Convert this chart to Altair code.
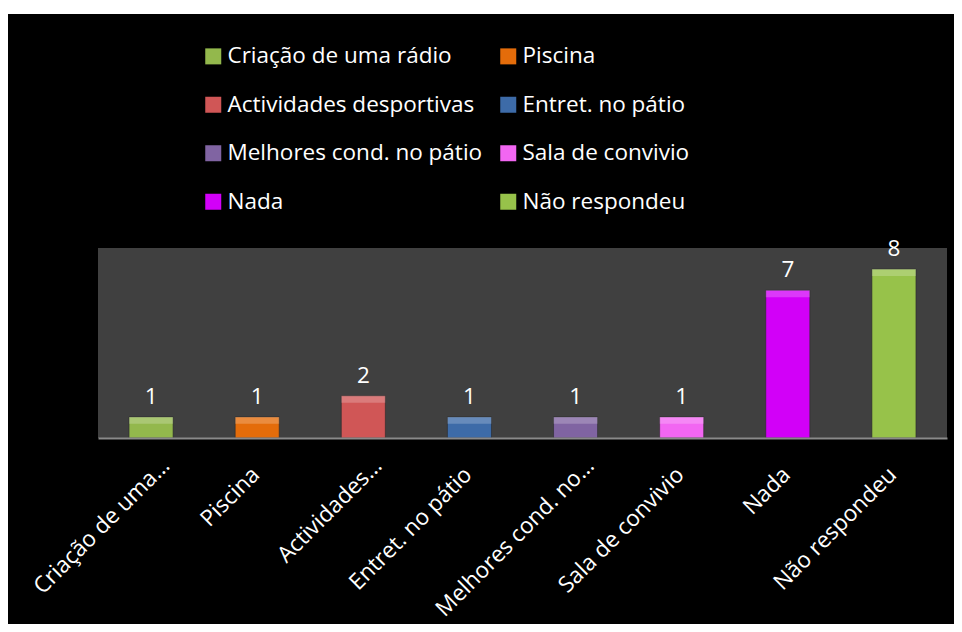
import altair as alt
import pandas as pd

categories = ["Criação de uma rádio", "Piscina", "Actividades desportivas", "Entret. no pátio",
              "Melhores cond. no pátio", "Sala de convivio", "Nada", "Não respondeu"]
axis_labels = ["Criação de uma…", "Piscina", "Actividades…", "Entret. no pátio",
               "Melhores cond. no…", "Sala de convivio", "Nada", "Não respondeu"]
values = [1, 1, 2, 1, 1, 1, 7, 8]
colors = ["#93b84c", "#e46c0a", "#d05656", "#3d6ba8", "#8064a2", "#f266f2", "#d200f8", "#97c24a"]

df = pd.DataFrame({"cat": categories, "val": values})

W, H = 849, 190
FONT = "Open Sans"
FS = 22.5

label_map = "{" + ",".join(f"'{c}':'{l}'" for c, l in zip(categories, axis_labels)) + "}"
trunc_test = "length(datum.value) > 16"

one = alt.Data(values=[{"a": 1}])

black = alt.Chart(one).mark_rect(color="black").encode(
    x=alt.value(-90), x2=alt.value(W + 7), y=alt.value(-234), y2=alt.value(H + 186))
gray = alt.Chart(one).mark_rect(color="#404040").encode(
    x=alt.value(0), x2=alt.value(W), y=alt.value(0), y2=alt.value(H))

xscale = alt.Scale(paddingInner=0.585, paddingOuter=0.2925)
xenc = alt.X("cat:N", sort=categories, title=None, scale=xscale,
             axis=alt.Axis(labelAngle=-45, labelFontSize=FS, labelFont=FONT, labelColor="white",
                           labelExpr=f"{label_map}[datum.value]",
                           labelPadding={"condition": {"test": trunc_test, "value": 16}, "value": 25},
                           labelOffset={"condition": {"test": trunc_test, "value": 7}, "value": -9},
                           labelLimit=400, ticks=False, domainColor="#8a8a8a", domainWidth=2,
                           zindex=2))
yscale = alt.Scale(domain=[0, 8.9])
yenc = alt.Y("val:Q", scale=yscale, axis=None)

bars = alt.Chart(df).mark_bar(stroke="#2a2a2a", strokeWidth=0.6).encode(
    x=xenc, y=yenc,
    color=alt.Color("cat:N", scale=alt.Scale(domain=categories, range=colors), sort=categories,
                    legend=alt.Legend(title=None, orient="none", legendX=104, legendY=-203,
                                      columns=2, direction="horizontal",
                                      symbolType="square", symbolSize=256,
                                      symbolStrokeWidth=0, labelFontSize=FS, labelFont=FONT,
                                      labelColor="white", labelOffset=3, columnPadding=14,
                                      rowPadding=25.5, padding=0, labelLimit=400, zindex=2)))

bevel = alt.Chart(df).transform_calculate(top2="datum.val - 0.33").mark_bar(
    color="white", opacity=0.22).encode(
    x=alt.X("cat:N", sort=categories), y=alt.Y("val:Q"), y2="top2:Q")

texts = alt.Chart(df).mark_text(dy=-13, baseline="alphabetic", fontSize=FS, font=FONT, color="white").encode(
    x=alt.X("cat:N", sort=categories), y=alt.Y("val:Q"), text="val:Q")

chart = alt.layer(black, gray, bars, bevel, texts).properties(
    width=W, height=H, background="white",
    autosize=alt.AutoSizeParams(type="none"),
    padding={"left": 90, "top": 240, "right": 7, "bottom": 186},
).configure_view(stroke=None)

chart.save("out.html", embed_options={"renderer": "svg", "actions": False})
